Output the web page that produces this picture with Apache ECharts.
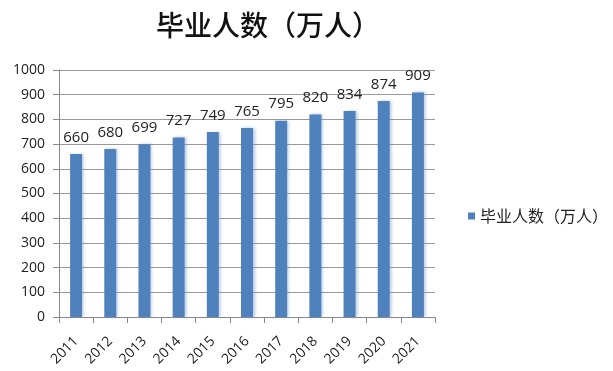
<!DOCTYPE html>
<html><head><meta charset="utf-8">
<script src="https://cdn.jsdelivr.net/npm/echarts@6/dist/echarts.min.js"></script>
<style>html,body{margin:0;padding:0;background:#fff}#c{width:613px;height:371px}</style>
</head><body><div id="c"></div>
<script>
var categories = ['2011','2012','2013','2014','2015','2016','2017','2018','2019','2020','2021'];
var values = [660,680,699,727,749,765,795,820,834,874,909];
var seriesName = '毕业人数（万人）';
var chart = echarts.init(document.getElementById('c'));
chart.setOption({
  animation: false,
  title: {text: seriesName, left: 263, top: 6, textAlign: 'center',
    textStyle: {fontFamily: 'Noto Sans CJK SC', fontSize: 28, fontWeight: 500, color: '#111'}},
  legend: {orient: 'vertical', left: 463, top: 203, itemWidth: 7, itemHeight: 7, itemGap: 4,
    icon: 'rect',
    textStyle: {fontFamily: 'Noto Sans CJK SC', fontSize: 16, color: '#222'}, data: [seriesName]},
  grid: {left: 59, right: 178, top: 70, bottom: 54},
  xAxis: {type: 'category', data: categories,
    axisLine: {lineStyle: {color: '#888'}},
    axisTick: {show: true, alignWithLabel: false, length: 6, lineStyle: {color: '#888'}},
    axisLabel: {rotate: 45, fontFamily: 'Open Sans', fontSize: 14, color: '#222', margin: 22}},
  yAxis: {type: 'value', min: 0, max: 1000, interval: 100,
    axisLine: {show: true, lineStyle: {color: '#888'}},
    axisTick: {show: true, length: 6, lineStyle: {color: '#888'}},
    splitLine: {lineStyle: {color: '#999'}},
    axisLabel: {fontFamily: 'Open Sans', fontSize: 14, color: '#222', margin: 14,
      formatter: function (v) { return String(v); }}},
  series: [{name: seriesName, type: 'bar', data: values, barWidth: '35%',
    itemStyle: {color: '#4f81bd', shadowColor: 'rgba(120,150,200,0.5)', shadowBlur: 3, shadowOffsetX: 2},
    label: {show: true, position: 'top', distance: 9, fontFamily: 'Open Sans', fontSize: 15, color: '#222'}}]
});
</script></body></html>
